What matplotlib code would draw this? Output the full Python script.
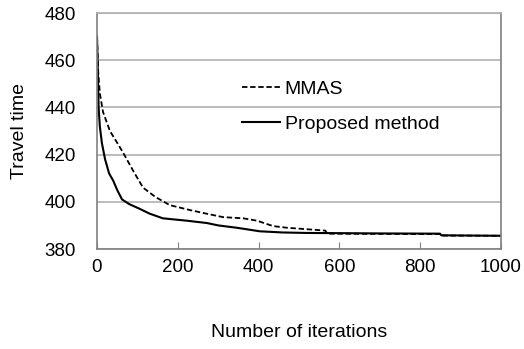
import matplotlib.pyplot as plt

plt.rcParams['font.family'] = ['Liberation Sans', 'DejaVu Sans']

# iterations / travel time
mmas_x = [0, 3, 7, 15, 32, 50, 65, 90, 114, 145, 180, 230, 270, 312, 362, 396, 436, 470, 510,
          565, 570, 700, 849, 852, 1000]
mmas_y = [470, 455, 446, 438, 430, 425, 420.7, 413, 406, 402, 398.6, 396.5, 395, 393.5, 393,
          392, 389.7, 389, 388.5, 387.8, 386.5, 386.4, 386.3, 385.7, 385.6]
prop_x = [0, 2, 4, 7, 12, 20, 30, 40, 50, 62, 80, 106, 130, 163, 222, 272, 300, 346, 403,
          460, 520, 700, 849, 852, 1000]
prop_y = [470, 455, 440, 432, 425, 418, 412, 409, 405, 401, 399, 397, 395, 393, 392, 391, 390,
          389, 387.5, 387, 386.8, 386.6, 386.5, 385.8, 385.6]

x_ticks = [0, 200, 400, 600, 800, 1000]
y_ticks = [380, 400, 420, 440, 460, 480]

fig = plt.figure(figsize=(5.24, 3.49), dpi=100)
ax = fig.add_axes([97 / 524, 1 - 249 / 349, 404 / 524, 236 / 349])

ax.plot(mmas_x, mmas_y, color='black', lw=1.3, ls=(0, (3, 1.5)), label='MMAS')
ax.plot(prop_x, prop_y, color='black', lw=1.5, label='Proposed method')

ax.set_xlim(0, 1000)
ax.set_ylim(380, 480)
ax.set_xticks(x_ticks)
ax.set_yticks(y_ticks)
ax.tick_params(axis='x', direction='in', length=5, color='#808080', labelsize=13.5, pad=7)
ax.tick_params(axis='y', length=0, labelsize=13.5, pad=15)
ax.grid(axis='y', color='#b0b0b0', lw=1.2)
ax.set_axisbelow(True)
for s in ax.spines.values():
    s.set_color('#808080')
    s.set_linewidth(1.2)
ax.spines['top'].set_color('#b0b0b0')

ax.set_xlabel('Number of iterations', fontsize=14, labelpad=35)
ax.set_ylabel('Travel time', fontsize=14, labelpad=12)

ax.legend(loc='upper left', bbox_to_anchor=(0.359, 0.714), frameon=False, fontsize=14,
          handlelength=1.95, handletextpad=0.25, labelspacing=0.9, borderpad=0,
          borderaxespad=0)

fig.savefig('out.png', dpi=100)
